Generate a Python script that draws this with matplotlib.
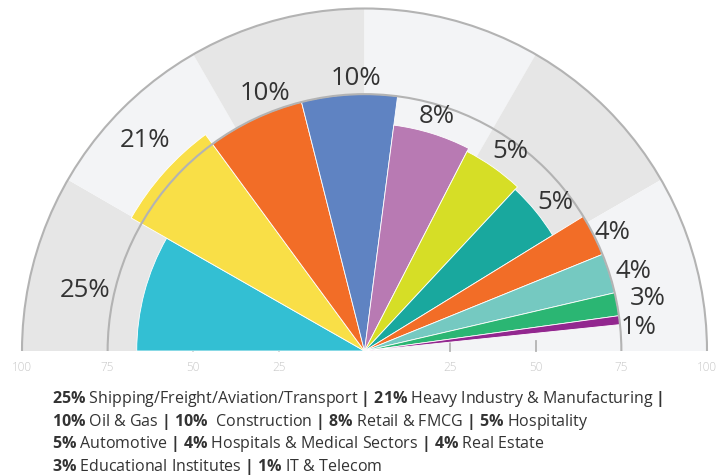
import matplotlib
matplotlib.use("Agg")
import matplotlib.pyplot as plt
from matplotlib.patches import Wedge, Arc
import numpy as np

# values
pct = [25, 21, 10, 10, 8, 5, 5, 4, 4, 3, 1]
sectors = ["Shipping/Freight/Aviation/Transport", "Heavy Industry & Manufacturing",
           "Oil & Gas", " Construction", "Retail & FMCG", "Hospitality",
           "Automotive", "Hospitals & Medical Sectors", "Real Estate",
           "Educational Institutes", "IT & Telecom"]
# radial reach of each slice on the 0-100 scale
reach = [66.5, 78.4, 75, 75, 66.5, 65.5, 64.5, 75, 75, 75, 75]
# angular width of each slice (degrees), going clockwise from the left
span = [29.7, 24.0, 22.1, 21.6, 19.8, 15.8, 15.4, 9.5, 9.0, 5.2, 2.0]
colors = ["#33bfd3", "#f9df47", "#f26d27", "#5f83c2", "#b87ab3", "#d6de26",
          "#19a89e", "#f26d27", "#75c9c1", "#2bb673", "#92278f"]
ticks = [25, 50, 75, 100]

plt.rcParams["font.family"] = ["Open Sans", "DejaVu Sans"]
plt.rcParams["mathtext.fontset"] = "custom"
plt.rcParams["mathtext.rm"] = "Open Sans"
plt.rcParams["mathtext.bf"] = "Open Sans:bold"

W, H = 725, 477
cx, cy, s = 364.5, 352, 3.425  # centre in px, px per unit

fig = plt.figure(figsize=(W / 100, H / 100), dpi=100)
ax = fig.add_axes([0, 0, 1, 1])
ax.set_xlim(-cx / s, (W - cx) / s)
ax.set_ylim(-(H - cy) / s, cy / s)
ax.set_aspect("equal")
ax.axis("off")

# background bands
for k in range(6):
    c = "#e6e6e6" if k % 2 == 0 else "#f3f4f6"
    ax.add_patch(Wedge((0, 0), 100, 180 - 30 * (k + 1), 180 - 30 * k,
                       facecolor=c, edgecolor="none", zorder=1))

# small ticks on the baseline
for t in [25, 50]:
    for sg in (-1, 1):
        ax.plot([sg * t, sg * t], [0, 3], color="#b3b3b3", lw=1.3, zorder=2)

# slices
a = 180.0
for p, r, w, c in zip(pct, reach, span, colors):
    ax.add_patch(Wedge((0, 0), r, a - w, a, facecolor=c, edgecolor="white",
                       lw=0.6, zorder=3))
    a -= w

# rings
for r in (75, 100):
    ax.add_patch(Arc((0, 0), 2 * r, 2 * r, theta1=0, theta2=180,
                     color="#b3b3b3", lw=1.5, zorder=4))

# percent labels
lab_ang = [167.5, 136, 111, 91.8, 72.9, 54, 38.2, 25.7, 16.6, 10.6, 5]
lab_r = [83.6, 89, 81, 80, 71.8, 72.4, 70.8, 80.2, 81.8, 84.2, 80.4]
for p, th, r in zip(pct, lab_ang, lab_r):
    ax.text(r * np.cos(np.radians(th)), r * np.sin(np.radians(th)), f"{p}%",
            ha="center", va="center", fontsize=18.5, color="#333333", zorder=5)

# axis numbers
for t in ticks:
    for sg in (-1, 1):
        ax.text(sg * t, -4.4, str(t), ha="center", va="center", fontsize=8.5,
                color="#c8c8c8", fontweight="light")

# legend text
def run(i):
    return r"$\mathbf{" + str(pct[i]) + r"\%}$ " + sectors[i]

sep = r" $\mathbf{|}$ "
lines = [
    [0, 1],
    [2, 3, 4, 5],
    [6, 7, 8],
    [9, 10],
]
ys = [399, 422, 444, 467]
for n, (idx, y) in enumerate(zip(lines, ys)):
    txt = sep.join(run(i) for i in idx)
    if n == 0:
        txt += sep.rstrip()
    fig.text(52 / W, 1 - y / H, txt, ha="left", va="center", fontsize=11.5,
             color="#333333")

fig.savefig("out.png", dpi=100)
